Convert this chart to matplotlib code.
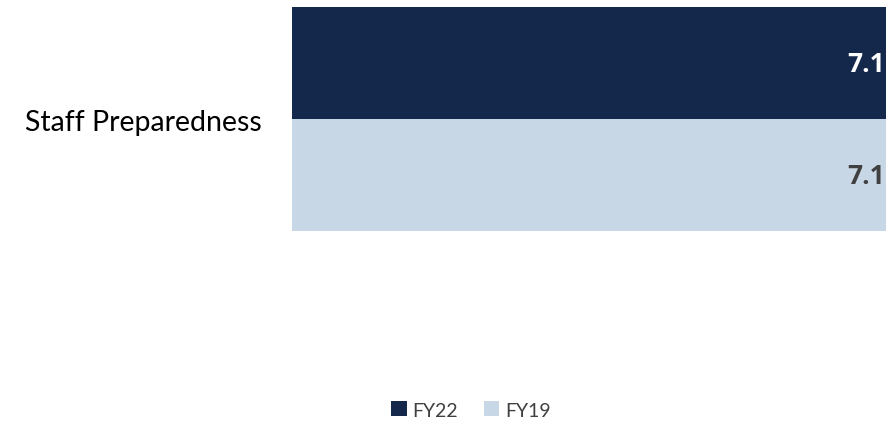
import matplotlib
matplotlib.use("Agg")
import matplotlib.pyplot as plt
from matplotlib.patches import Patch
from matplotlib.transforms import offset_copy

categories = ["Staff Preparedness"]
series_names = ["FY22", "FY19"]
values_fy22 = [7.1]
values_fy19 = [7.1]
colors = ["#14284B", "#C8D7E6"]
label_colors = ["#FFFFFF", "#404040"]

plt.rcParams['font.family'] = ['Lato', 'DejaVu Sans']

fig = plt.figure(figsize=(8.86, 4.27), dpi=100)
ax = fig.add_axes([292/886, 1 - 232/427, 1 - 292/886, 224/427])

series = [values_fy22, values_fy19]
trans = offset_copy(ax.transData, fig=fig, x=-0.8, y=0, units="points")
for i, (vals, name) in enumerate(zip(series, series_names)):
    ypos = [i]
    bars = ax.barh(ypos, vals, height=1.0, color=colors[i], label=name)
    for b, v in zip(bars, vals):
        ax.text(v, b.get_y() + b.get_height() / 2, f"{v:.1f}", ha="right", va="center",
                fontsize=19, fontweight="bold", family=["Open Sans", "DejaVu Sans"],
                color=label_colors[i], transform=trans)

ax.set_xlim(0, max(values_fy22 + values_fy19))
ax.set_ylim(1.5, -0.5)
ax.set_yticks([0.5])
ax.set_yticklabels(categories, fontsize=20.5, color="#000000")
ax.tick_params(axis="y", length=0, pad=22)
ax.set_xticks([])
for s in ax.spines.values():
    s.set_visible(False)

handles = [Patch(facecolor=c, label=n) for c, n in zip(colors, series_names)]
fig.legend(handles=handles, loc="center", bbox_to_anchor=(471/886, 1 - 411/427), ncol=2,
           frameon=False, fontsize=14, handlelength=0.8, handleheight=0.8,
           handletextpad=0.3, columnspacing=1.3, labelcolor="#404040")

fig.savefig("out.png", dpi=100)
